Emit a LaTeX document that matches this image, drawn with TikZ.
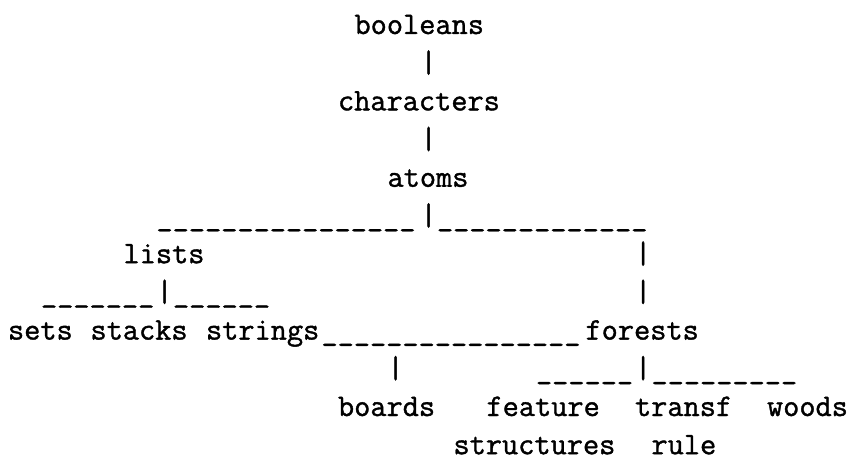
\documentclass[tikz,border=0pt]{standalone}
\usepackage{fontspec}
\setmonofont{Latin Modern Mono}[FakeBold=1.2]
\begin{document}
\begin{tikzpicture}[x=1pt,y=-1pt,
  tt/.style={inner sep=0pt, outer sep=0pt, anchor=base west,
             font=\fontsize{31.43}{38}\selectfont\ttfamily}]
% character grid: 16.5pt per column, 38.2pt per line
\newcommand\place[4]{\node[tt] (#1) at ({8+#2*16.5},{34+#3*38.2}) {#4};}
\newcommand\under[1]{\foreach \k in {1,...,#1}{\_}}
\useasboundingbox (0,0) rectangle (852,460);
% top chain
\place{booleans}{21}{0}{booleans}
\place{barA}{25}{1}{|}
\place{characters}{20}{2}{characters}
\place{barB}{25}{3}{|}
\place{atoms}{23}{4}{atoms}
% branching under atoms
\place{atomsL}{9}{5}{\under{16}}
\place{barC}{25}{5}{|}
\place{atomsR}{26}{5}{\under{13}}
\place{lists}{7}{6}{lists}
\place{barD}{38}{6}{|}
\place{listsL}{2}{7}{\under{7}}
\place{barE}{9}{7}{|}
\place{listsR}{10}{7}{\under{6}}
\place{barF}{38}{7}{|}
% leaves of lists, link to forests
\place{sets}{0}{8}{sets}
\place{stacks}{5}{8}{stacks}
\place{strings}{12}{8}{strings}
\place{stringsR}{19}{8}{\under{16}}
\place{forests}{35}{8}{forests}
% lower level
\place{barG}{23}{9}{|}
\place{forestsL}{32}{9}{\under{6}}
\place{barH}{38}{9}{|}
\place{forestsR}{39}{9}{\under{9}}
\place{boards}{20}{10}{boards}
\place{feature}{29}{10}{feature}
\place{transf}{38}{10}{transf}
\place{woods}{46}{10}{woods}
\place{structures}{27}{11}{structures}
\place{ruleword}{39}{11}{rule}
\end{tikzpicture}
\end{document}
